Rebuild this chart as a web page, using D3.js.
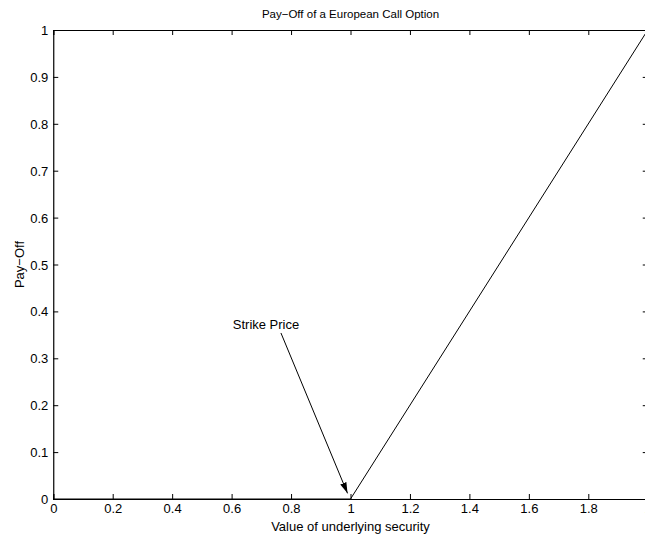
<!DOCTYPE html>
<html lang="en">
<head>
<meta charset="UTF-8">
<title>Pay-Off of a European Call Option</title>
<script src="https://d3js.org/d3.v7.min.js"></script>
<style>
  body { margin: 0; background: #fff; overflow: hidden; }
  svg { display: block; }
  svg text { font-family: "Liberation Sans", Arial, Helvetica, sans-serif; fill: #000; }
  .tick text { font-size: 13px; }
</style>
</head>
<body>
<svg width="645" height="537"></svg>
<script>
// payoff = max(S - K, 0) with K = 1
var price = [0, 1, 2];
var payoff = [0, 0, 1];
var xTicks = [0, 0.2, 0.4, 0.6, 0.8, 1, 1.2, 1.4, 1.6, 1.8, 2];
var yTicks = [0, 0.1, 0.2, 0.3, 0.4, 0.5, 0.6, 0.7, 0.8, 0.9, 1];
var note = { text: 'Strike Price', x: 0.604, y: 0.362, fromX: 0.766, fromY: 0.354, toX: 0.99, toY: 0.012 };

var svg = d3.select('svg');
var margin = { left: 53.25, top: 30, right: -2.75, bottom: 38 };
var width = +svg.attr('width');
var height = +svg.attr('height');
var innerWidth = width - margin.left - margin.right;
var innerHeight = height - margin.top - margin.bottom;

var g = svg.append('g')
    .attr('transform', `translate(${margin.left},${margin.top})`);

var xScale = d3.scaleLinear().domain([0, 2]).range([0, innerWidth]);
var yScale = d3.scaleLinear().domain([0, 1]).range([innerHeight, 0]);

var fmt = d => String(+d.toFixed(1));

// axes, ticks pointing inward like matlab
var xAxis = d3.axisBottom(xScale).tickValues(xTicks).tickFormat(fmt).tickSize(-5).tickPadding(4);
var yAxis = d3.axisLeft(yScale).tickValues(yTicks).tickFormat(fmt).tickSize(-5).tickPadding(5);
var xTop = d3.axisTop(xScale).tickValues(xTicks).tickFormat('').tickSize(-5);
var yRight = d3.axisRight(yScale).tickValues(yTicks).tickFormat('').tickSize(-5);

var xAxisG = g.append('g').attr('transform', `translate(0,${innerHeight})`).call(xAxis);
var yAxisG = g.append('g').call(yAxis);
g.append('g').call(xTop).selectAll('text').remove();
g.append('g').attr('transform', `translate(${innerWidth},0)`).call(yRight).selectAll('text').remove();

g.selectAll('.domain').attr('stroke', '#000').attr('stroke-width', 1.2);
g.selectAll('.tick line').attr('stroke', '#000');
yAxisG.selectAll('.tick text').attr('dy', '0.35em');
xAxisG.selectAll('.tick text').attr('dy', '0.8em');

// payoff line
var line = d3.line()
    .x((d, i) => xScale(price[i]))
    .y(d => yScale(d));

g.append('path')
    .datum(payoff)
    .attr('fill', 'none')
    .attr('stroke', '#000')
    .attr('stroke-width', 1)
    .attr('d', line);

// annotation arrow
svg.append('defs').append('marker')
    .attr('id', 'head')
    .attr('viewBox', '0 0 10 6')
    .attr('refX', 10)
    .attr('refY', 3)
    .attr('markerUnits', 'userSpaceOnUse')
    .attr('markerWidth', 11)
    .attr('markerHeight', 7)
    .attr('orient', 'auto')
    .append('path')
    .attr('d', 'M0,0 L10,3 L0,6 Z')
    .attr('fill', '#000');

g.append('line')
    .attr('x1', xScale(note.fromX))
    .attr('y1', yScale(note.fromY))
    .attr('x2', xScale(note.toX))
    .attr('y2', yScale(note.toY))
    .attr('stroke', '#000')
    .attr('stroke-width', 1)
    .attr('marker-end', 'url(#head)');

g.append('text')
    .attr('x', xScale(note.x))
    .attr('y', yScale(note.y))
    .style('font-size', '13px')
    .text(note.text);

// labels
svg.append('text')
    .attr('x', margin.left + xScale(1))
    .attr('y', 18)
    .attr('text-anchor', 'middle')
    .style('font-size', '11.5px')
    .text('Pay\u2212Off of a European Call Option');

svg.append('text')
    .attr('x', margin.left + xScale(1))
    .attr('y', 531)
    .attr('text-anchor', 'middle')
    .style('font-size', '13px')
    .text('Value of underlying security');

svg.append('text')
    .attr('transform', `translate(24,${margin.top + innerHeight / 2}) rotate(-90)`)
    .attr('text-anchor', 'middle')
    .style('font-size', '13px')
    .text('Pay\u2212Off');
</script>
</body>
</html>
